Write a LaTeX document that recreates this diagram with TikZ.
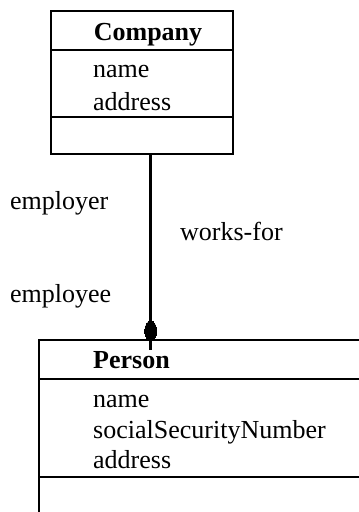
\documentclass[tikz,border=0pt]{standalone}
\usepackage{fontspec}
\setmainfont{Liberation Serif}
\usetikzlibrary{calc,shapes.geometric}
\begin{document}
\begin{tikzpicture}[x=1pt,y=-1pt,
  umlbox/.style={draw, line width=2.6pt, rectangle, outer sep=0pt, inner sep=0pt, anchor=north west},
  divider/.style={line width=2.6pt},
  txt/.style={anchor=base west, inner sep=0pt, font=\fontsize{26}{31}\selectfont},
  btxt/.style={anchor=base, inner sep=0pt, font=\fontsize{26}{31}\selectfont\bfseries},
  conn/.style={line width=2.6pt},
  aggmark/.style={draw, fill=black, ellipse, line width=0pt, minimum width=12pt, minimum height=20pt, inner sep=0pt}
]
\clip (0,0) rectangle (359,512);
\fill[white] (0,0) rectangle (359,512);
% Company class
\node[umlbox, minimum width=182pt, minimum height=143pt] (company) at (51,11) {};
\draw[divider] (51,50) -- (233,50);
\draw[divider] (51,117) -- (233,117);
\node[btxt] (cname) at (148,40) {Company};
\node[txt] (cattr1) at (93,77) {name};
\node[txt] (cattr2) at (93,110) {address};
% Person class
\node[umlbox, minimum width=360pt, minimum height=200pt] (person) at (39,340) {};
\draw[divider] (39,379) -- (400,379);
\draw[divider] (39,477) -- (400,477);
\node[txt, font=\fontsize{26}{31}\selectfont\bfseries] (pname) at (93,368) {Person};
\node[txt] (pattr1) at (93,407) {name};
\node[txt] (pattr2) at (93,438) {socialSecurityNumber};
\node[txt] (pattr3) at (93,468) {address};
% association
\node[aggmark] (agg) at (150.7,331) {};
\coordinate (tail) at (150.7,350);
\draw[conn] (company.south -| agg) -- (agg.center) -- (tail);
% labels
\node[txt] (l1) at (10,209) {employer};
\node[txt] (l2) at (10,302) {employee};
\node[txt] (l3) at (180,240) {works-for};
\end{tikzpicture}
\end{document}
